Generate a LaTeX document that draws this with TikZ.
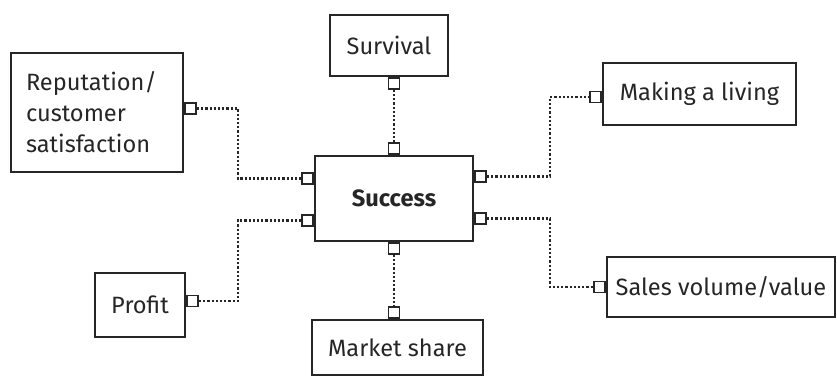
\documentclass[tikz,border=0pt]{standalone}
\usepackage{fontspec}
\setmainfont{Fira Sans}
\usepackage{tikz}
\usetikzlibrary{positioning, calc}

\begin{document}
\begin{tikzpicture}[x=0.5pt, y=-0.5pt,
    box/.style={rectangle, draw=black!85, line width=1.1pt, fill=white,
                inner sep=2pt, align=center, text=black!85,
                font=\fontsize{11.8}{15.5}\selectfont},
    port/.style={rectangle, draw=black!85, line width=0.9pt, fill=white,
                minimum size=5.5pt, inner sep=0pt},
    link/.style={draw=black!85, line width=1.2pt, dash pattern=on 1.1pt off 1pt}]

  \useasboundingbox (0,0) rectangle (837,379);

  %--- Boxes ---
  \node[box, minimum width=79pt, minimum height=42.5pt,
        font=\fontsize{11.8}{15.5}\selectfont\bfseries] (succ) at (394,198.5) {Success};
  \node[box, minimum width=59pt, minimum height=30.5pt]  (surv)  at (389,45.5)  {Survival};
  \node[box, minimum width=86pt, minimum height=59.5pt, align=left,
        text width=71pt]                                 (rep)   at (97,112.5)  {Reputation/\\customer\\satisfaction};
  \node[box, minimum width=96.5pt, minimum height=31pt]  (living) at (699.5,94) {Making a living};
  \node[box, minimum width=45pt, minimum height=32pt]    (prof)  at (140,305)   {Profit};
  \node[box, minimum width=85.5pt, minimum height=27.5pt] (mshare) at (397.5,347.5) {Market share};
  \node[box, minimum width=114pt, minimum height=30pt]   (sales) at (721,287)   {Sales volume/value};

  %--- Ports ---
  \node[port, anchor=south] (succ-t)  at (succ.north) {};
  \node[port, anchor=north] (succ-b)  at (succ.south) {};
  \node[port, anchor=east]  (succ-l1) at ([yshift=10pt]succ.west) {};
  \node[port, anchor=east]  (succ-l2) at ([yshift=-11pt]succ.west) {};
  \node[port, anchor=west]  (succ-r1) at ([yshift=11pt]succ.east) {};
  \node[port, anchor=west]  (succ-r2) at ([yshift=-10pt]succ.east) {};
  \node[port, anchor=north] (surv-p)  at (surv.south -| succ.north) {};
  \node[port, anchor=west]  (rep-p)   at ([yshift=2pt]rep.east) {};
  \node[port, anchor=east]  (living-p) at ([yshift=-1.5pt]living.west) {};
  \node[port, anchor=west]  (prof-p)  at ([yshift=2pt]prof.east) {};
  \node[port, anchor=south] (mshare-p) at (mshare.north -| succ.south) {};
  \node[port, anchor=east]  (sales-p) at (sales.west) {};

  %--- Connectors ---
  \coordinate (lx) at (238,0);
  \coordinate (rx) at (550,0);
  \draw[link] (surv-p.south) -- (succ-t.north);
  \draw[link] (succ-b.south) -- (mshare-p.north);
  \draw[link] (rep-p.east) -- (rep-p.east -| lx) |- (succ-l1.west);
  \draw[link] (prof-p.east) -- (prof-p.east -| lx) |- (succ-l2.west);
  \draw[link] (succ-r1.east) -- (succ-r1.east -| rx) |- (living-p.west);
  \draw[link] (succ-r2.east) -- (succ-r2.east -| rx) |- (sales-p.west);
\end{tikzpicture}
\end{document}
